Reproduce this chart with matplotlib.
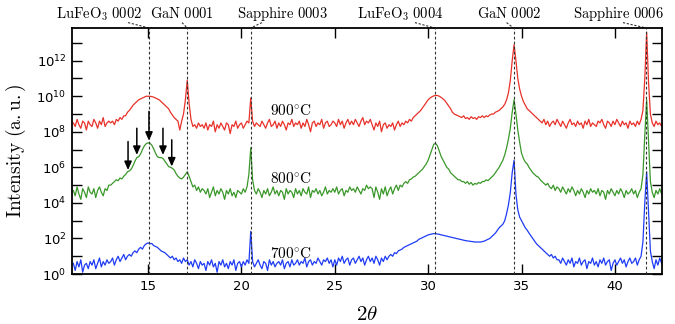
import matplotlib
matplotlib.use("Agg")
import matplotlib.pyplot as plt
import matplotlib.ticker as mticker
import numpy as np

# ---------------------------------------------------------------------------
# data: 2theta grid (0.1 deg steps, 11.0 .. 42.5) and log10 intensities
# ---------------------------------------------------------------------------
two_theta = np.arange(110, 426) / 10.0

log_900 = [
    8.5, 8.3, 8.7, 8.4, 8.2, 8.6, 8.5, 8.1, 8.6, 8.4,      # 11
    8.3, 8.7, 8.5, 8.2, 8.6, 8.4, 8.8, 8.3, 8.5, 8.6,      # 12
    8.5, 8.6, 8.4, 8.7, 8.6, 8.8, 8.7, 8.9, 8.9, 9.1,      # 13
    9.2, 9.35, 9.5, 9.6, 9.7, 9.8, 9.85, 9.9, 9.95, 10.0,  # 14
    10.0, 10.0, 9.98, 9.95, 9.9, 9.85, 9.8, 9.7, 9.6, 9.5,  # 15
    9.4, 9.3, 9.1, 8.95, 8.8, 8.7, 8.6, 8.1, 8.6, 9.0,     # 16
    9.8, 10.9, 9.6, 8.7, 8.3, 8.4, 8.2, 8.5, 8.3, 8.4,     # 17
    8.2, 8.5, 8.1, 8.4, 8.3, 8.6, 8.0, 8.4, 8.2, 8.5,      # 18
    8.3, 8.1, 8.5, 8.4, 7.9, 8.4, 8.3, 8.6, 8.2, 8.4,      # 19
    8.5, 8.2, 8.4, 8.6, 8.5, 9.9, 8.6, 8.3, 8.5, 8.4,      # 20
    8.3, 8.6, 8.4, 8.2, 8.5, 8.7, 8.3, 8.4, 8.6, 8.2,      # 21
    8.5, 8.3, 8.6, 8.4, 8.1, 8.5, 8.4, 8.7, 8.3, 8.5,      # 22
    8.4, 8.6, 8.2, 8.5, 8.3, 8.7, 8.4, 8.0, 8.5, 8.6,      # 23
    8.3, 8.5, 8.4, 8.7, 8.2, 8.5, 8.6, 8.3, 8.4, 8.6,      # 24
    8.5, 8.3, 8.7, 8.4, 8.6, 8.2, 8.5, 8.7, 8.4, 8.6,      # 25
    8.4, 8.7, 8.5, 8.3, 8.6, 8.8, 8.4, 8.6, 8.5, 8.7,      # 26
    8.4, 8.1, 8.5, 8.3, 8.6, 8.0, 8.4, 8.5, 8.2, 8.4,      # 27
    8.3, 8.5, 8.1, 8.4, 8.6, 8.3, 8.5, 8.4, 8.6, 8.5,      # 28
    8.7, 8.6, 8.8, 8.9, 9.0, 9.1, 9.2, 9.35, 9.5, 9.65,    # 29
    9.8, 9.9, 9.97, 10.02, 10.05, 10.04, 10.0, 9.93, 9.85, 9.75,  # 30
    9.6, 9.45, 9.3, 9.1, 9.0, 8.95, 8.9, 8.85, 8.8, 8.9,   # 31
    8.75, 8.8, 8.7, 8.85, 8.75, 8.8, 8.7, 8.85, 8.8, 8.9,  # 32
    8.8, 8.9, 8.85, 8.95, 9.0, 9.0, 9.1, 9.15, 9.2, 9.3,   # 33
    9.4, 9.55, 9.8, 10.2, 10.9, 12.0, 12.9, 12.0, 11.0, 10.4,  # 34
    10.0, 9.7, 9.5, 9.3, 9.2, 9.1, 9.0, 8.9, 8.8, 8.7,     # 35
    8.6, 8.5, 8.7, 8.4, 8.6, 8.3, 8.5, 8.6, 8.4, 8.7,      # 36
    8.5, 8.3, 8.6, 8.4, 8.2, 8.5, 8.7, 8.4, 8.5, 8.3,      # 37
    8.6, 8.4, 8.5, 8.2, 8.6, 8.4, 8.7, 8.3, 8.5, 8.4,      # 38
    8.3, 8.6, 8.5, 8.7, 8.4, 8.2, 8.6, 8.5, 8.3, 8.6,      # 39
    8.4, 8.7, 8.5, 8.3, 8.6, 8.4, 8.5, 8.2, 8.6, 8.4,      # 40
    8.5, 8.3, 8.6, 8.4, 8.7, 9.2, 11.0, 13.6, 10.8, 9.0,   # 41
    8.5, 8.3, 8.6, 8.4, 8.5, 8.3,                          # 42
]

log_800 = [
    4.7, 4.4, 4.9, 4.5, 4.2, 4.8, 4.6, 4.3, 4.9, 4.6,      # 11
    4.5, 4.8, 4.3, 4.7, 4.9, 4.6, 4.4, 4.8, 4.7, 5.0,      # 12
    5.0, 5.1, 5.2, 5.3, 5.25, 5.4, 5.35, 5.5, 5.6, 5.75,   # 13
    5.8, 5.9, 6.1, 6.35, 6.55, 6.6, 6.75, 7.0, 7.2, 7.33,  # 14
    7.38, 7.36, 7.25, 7.05, 6.8, 6.6, 6.55, 6.55, 6.5, 6.35,  # 15
    6.2, 6.05, 6.0, 5.95, 5.85, 5.65, 5.5, 5.4, 5.35, 5.45,  # 16
    5.6, 5.75, 5.5, 5.2, 4.9, 5.0, 4.7, 4.9, 4.6, 4.8,     # 17
    4.7, 4.5, 4.8, 4.3, 4.6, 4.9, 4.4, 4.7, 4.5, 4.8,      # 18
    4.6, 4.2, 4.7, 4.5, 4.8, 4.4, 4.6, 4.3, 4.7, 4.6,      # 19
    4.5, 4.8, 4.6, 4.9, 5.6, 7.1, 5.3, 4.7, 4.5, 4.8,      # 20
    4.6, 4.3, 4.7, 4.5, 4.8, 4.4, 4.6, 4.9, 4.5, 4.7,      # 21
    4.4, 4.7, 4.6, 4.2, 4.8, 4.5, 4.7, 4.6, 4.3, 4.8,      # 22
    4.5, 4.7, 4.4, 4.8, 4.6, 4.5, 4.9, 4.3, 4.7, 4.6,      # 23
    4.8, 4.5, 4.7, 4.4, 4.6, 4.9, 4.5, 4.7, 4.6, 4.8,      # 24
    4.6, 4.9, 4.5, 4.7, 4.8, 4.4, 4.7, 4.6, 4.9, 4.7,      # 25
    4.8, 4.6, 4.9, 4.7, 4.5, 4.8, 4.7, 5.0, 4.8, 4.9,      # 26
    4.8, 4.3, 4.9, 4.6, 4.2, 4.8, 4.5, 4.9, 4.4, 4.7,      # 27
    4.9, 4.5, 4.8, 5.0, 4.7, 5.0, 4.9, 5.1, 5.2, 5.1,      # 28
    5.3, 5.35, 5.45, 5.5, 5.6, 5.7, 5.8, 5.9, 6.05, 6.2,   # 29
    6.4, 6.7, 7.0, 7.3, 7.35, 7.2, 6.9, 6.6, 6.4, 6.2,     # 30
    6.0, 5.9, 5.7, 5.6, 5.5, 5.4, 5.3, 5.3, 5.2, 5.2,      # 31
    5.1, 5.2, 5.05, 5.15, 5.0, 5.1, 5.05, 5.15, 5.1, 5.2,  # 32
    5.2, 5.3, 5.25, 5.35, 5.45, 5.55, 5.7, 5.85, 6.0, 6.2,  # 33
    6.4, 6.7, 7.1, 7.6, 8.2, 9.1, 9.8, 9.0, 8.1, 7.4,      # 34
    6.8, 6.5, 6.3, 6.2, 6.0, 5.85, 5.7, 5.6, 5.5, 5.45,    # 35
    5.3, 5.2, 5.1, 5.0, 5.1, 4.9, 4.8, 5.0, 4.7, 4.9,      # 36
    4.8, 4.6, 4.9, 4.7, 4.5, 4.8, 4.6, 4.9, 4.7, 4.4,      # 37
    4.7, 4.5, 4.8, 4.6, 4.3, 4.7, 4.5, 4.8, 4.6, 4.7,      # 38
    4.5, 4.8, 4.4, 4.7, 4.6, 4.2, 4.7, 4.5, 4.8, 4.6,      # 39
    4.4, 4.7, 4.5, 4.8, 4.6, 4.3, 4.7, 4.5, 4.6, 4.8,      # 40
    4.5, 4.7, 4.3, 4.6, 4.8, 5.6, 7.8, 9.8, 7.5, 5.2,      # 41
    4.6, 4.3, 4.7, 4.5, 4.8, 4.5,                          # 42
]

log_700 = [
    0.6, 0.2, 0.7, 0.4, 0.8, 0.1, 0.5, 0.6, 0.3, 0.7,      # 11
    0.5, 0.8, 0.3, 0.6, 0.9, 0.4, 0.7, 0.5, 0.8, 0.6,      # 12
    0.7, 0.9, 0.5, 0.8, 1.0, 0.7, 0.9, 1.1, 0.8, 1.0,      # 13
    1.1, 1.0, 1.2, 1.3, 1.2, 1.4, 1.5, 1.4, 1.6, 1.7,      # 14
    1.75, 1.7, 1.72, 1.6, 1.55, 1.5, 1.4, 1.3, 1.25, 1.2,  # 15
    1.1, 1.0, 0.9, 1.0, 0.8, 0.9, 0.7, 0.8, 0.6, 0.9,      # 16
    0.7, 0.8, 0.5, 0.7, 0.4, 0.8, 0.6, 0.3, 0.7, 0.5,      # 17
    0.6, 0.2, 0.7, 0.5, 0.8, 0.4, 0.6, 0.1, 0.7, 0.5,      # 18
    0.8, 0.4, 0.6, 0.3, 0.7, 0.5, 0.8, 0.2, 0.6, 0.7,      # 19
    0.4, 0.7, 0.5, 0.8, 0.6, 2.4, 0.7, 0.4, 0.6, 0.8,      # 20
    0.5, 0.3, 0.7, 0.6, 0.2, 0.8, 0.5, 0.7, 0.4, 0.6,      # 21
    0.7, 0.5, 0.8, 0.3, 0.6, 0.7, 0.4, 0.8, 0.5, 0.6,      # 22
    0.8, 0.5, 0.7, 0.6, 0.9, 0.4, 0.7, 0.8, 0.5, 0.7,      # 23
    0.6, 0.9, 0.7, 0.5, 0.8, 0.7, 0.9, 0.6, 0.8, 0.4,      # 24
    0.8, 0.5, 0.9, 0.7, 1.0, 0.6, 0.8, 0.9, 0.5, 0.8,      # 25
    0.9, 0.6, 0.8, 1.0, 0.7, 0.9, 0.5, 0.8, 1.0, 0.7,      # 26
    0.9, 0.6, 1.0, 0.8, 0.5, 0.9, 0.7, 1.0, 0.8, 1.0,      # 27
    1.1, 1.0, 1.2, 1.15, 1.3, 1.35, 1.4, 1.5, 1.55, 1.6,   # 28
    1.65, 1.7, 1.75, 1.8, 1.85, 1.95, 2.0, 2.05, 2.1, 2.15,  # 29
    2.2, 2.23, 2.25, 2.27, 2.27, 2.25, 2.23, 2.2, 2.18, 2.15,  # 30
    2.13, 2.1, 2.08, 2.05, 2.03, 2.0, 1.98, 1.95, 1.93, 1.9,  # 31
    1.88, 1.86, 1.85, 1.83, 1.82, 1.8, 1.8, 1.8, 1.8, 1.82,  # 32
    1.85, 1.9, 1.95, 2.0, 2.1, 2.2, 2.3, 2.45, 2.6, 2.7,   # 33
    2.8, 3.0, 3.4, 3.9, 4.6, 5.7, 6.4, 4.5, 3.6, 3.2,      # 34
    3.0, 2.8, 2.6, 2.47, 2.3, 2.15, 2.0, 1.85, 1.7, 1.6,   # 35
    1.5, 1.4, 1.3, 1.2, 1.1, 1.0, 1.1, 0.9, 1.0, 0.8,      # 36
    0.8, 0.6, 0.9, 0.7, 0.5, 0.8, 0.6, 0.9, 0.4, 0.7,      # 37
    0.6, 0.9, 0.5, 0.7, 0.8, 0.3, 0.7, 0.6, 0.9, 0.5,      # 38
    0.7, 0.4, 0.8, 0.6, 0.9, 0.5, 0.7, 0.8, 0.2, 0.6,      # 39
    0.8, 0.5, 0.7, 0.9, 0.6, 0.8, 0.4, 0.7, 0.9, 0.6,      # 40
    0.7, 0.9, 0.5, 0.8, 1.0, 1.8, 4.0, 5.75, 3.5, 1.3,     # 41
    0.7, 0.3, 0.8, 0.5, 0.9, 0.6,                          # 42
]

# reflections: label, dashed-line position, label centre, leader start (2theta)
peak_labels = [r"LuFeO_3\ 0002", r"GaN\ 0001", r"Sapphire\ 0003",
               r"LuFeO_3\ 0004", r"GaN\ 0002", r"Sapphire\ 0006"]
peak_pos = [15.05, 17.1, 20.5, 30.35, 34.57, 41.68]
label_pos = [12.35, 16.82, 22.17, 28.49, 34.33, 40.2]
leader_start = [13.93, 16.82, 21.1, 29.29, 34.2, 40.43]

# growth temperatures and where their labels sit (2theta, log10 I)
temp_labels = ["900", "800", "700"]
temp_x = [21.53, 21.53, 21.53]
temp_logy = [9.2, 5.4, 1.18]

# arrows marking the fringes on the 800 C trace
arrow_x = [13.93, 14.4, 15.05, 15.8, 16.27]
arrow_top = [7.45, 8.2, 9.15, 8.2, 7.55]
arrow_tip = [5.85, 6.7, 7.5, 6.7, 6.05]

# ---------------------------------------------------------------------------
# style
# ---------------------------------------------------------------------------
plt.rcParams["font.family"] = ["DejaVu Sans"]
plt.rcParams["mathtext.fontset"] = "dejavusans"

RED = "#e8322a"
GREEN = "#3a982a"
BLUE = "#1f3cf5"

fig = plt.figure(figsize=(6.75, 3.24), dpi=100)
ax = fig.add_axes([0.1067, 0.1543, 0.874, 0.7593])

for vals, col in [(log_900, RED), (log_800, GREEN), (log_700, BLUE)]:
    ax.plot(two_theta, 10 ** np.array(vals), color=col, lw=0.9)

ax.set_yscale("log")
ax.set_xlim(10.93, 42.52)
ax.set_ylim(1, 10 ** 13.84)

# dashed guide lines through each reflection
for p in peak_pos:
    ax.axvline(p, color="#333333", ls=(0, (2.5, 2)), lw=0.8, zorder=3)

# labels above the frame with dashed leaders
xtrans = ax.get_xaxis_transform()
for lab, p, lp, ls in zip(peak_labels, peak_pos, label_pos, leader_start):
    ax.text(lp, 1.057, "$\\mathrm{" + lab + "}$", transform=xtrans,
            ha="center", va="center", fontsize=10.5, math_fontfamily="cm")
    ax.plot([ls, p], [1.022, 1.0], transform=xtrans, color="#333333",
            lw=0.8, ls=(0, (2, 1.5)), clip_on=False)

for t, tx, ty in zip(temp_labels, temp_x, temp_logy):
    ax.text(tx, 10 ** ty, "$" + t + r"^{\circ}\mathrm{C}$", fontsize=11,
            math_fontfamily="cm", ha="left", va="center")

for ax_x, top, tip in zip(arrow_x, arrow_top, arrow_tip):
    ax.annotate("", xy=(ax_x, 10 ** tip), xytext=(ax_x, 10 ** top),
                arrowprops=dict(arrowstyle="-|>,head_length=0.5,head_width=0.22",
                                color="black", lw=1.1, shrinkA=0, shrinkB=0))

# ticks
ax.yaxis.set_major_locator(mticker.FixedLocator([10.0 ** k for k in range(14)]))
ax.yaxis.set_minor_locator(mticker.NullLocator())
ax.yaxis.set_major_formatter(mticker.FuncFormatter(
    lambda v, pos: r"$10^{%d}$" % round(np.log10(v)) if round(np.log10(v)) % 2 == 0 else ""))
ax.xaxis.set_major_locator(mticker.FixedLocator([15, 20, 25, 30, 35, 40]))
ax.tick_params(axis="both", which="major", direction="in", top=True, right=True,
               length=7, width=1.0, labelsize=9.5, pad=4)

for s in ax.spines.values():
    s.set_linewidth(1.3)

ax.set_ylabel("$\\mathrm{Intensity\\ (a.u.)}$", fontsize=14, math_fontfamily="cm",
              labelpad=6)
ax.set_xlabel(r"$2\theta$", fontsize=15, math_fontfamily="cm", labelpad=8)

fig.savefig("out.png", dpi=100)
